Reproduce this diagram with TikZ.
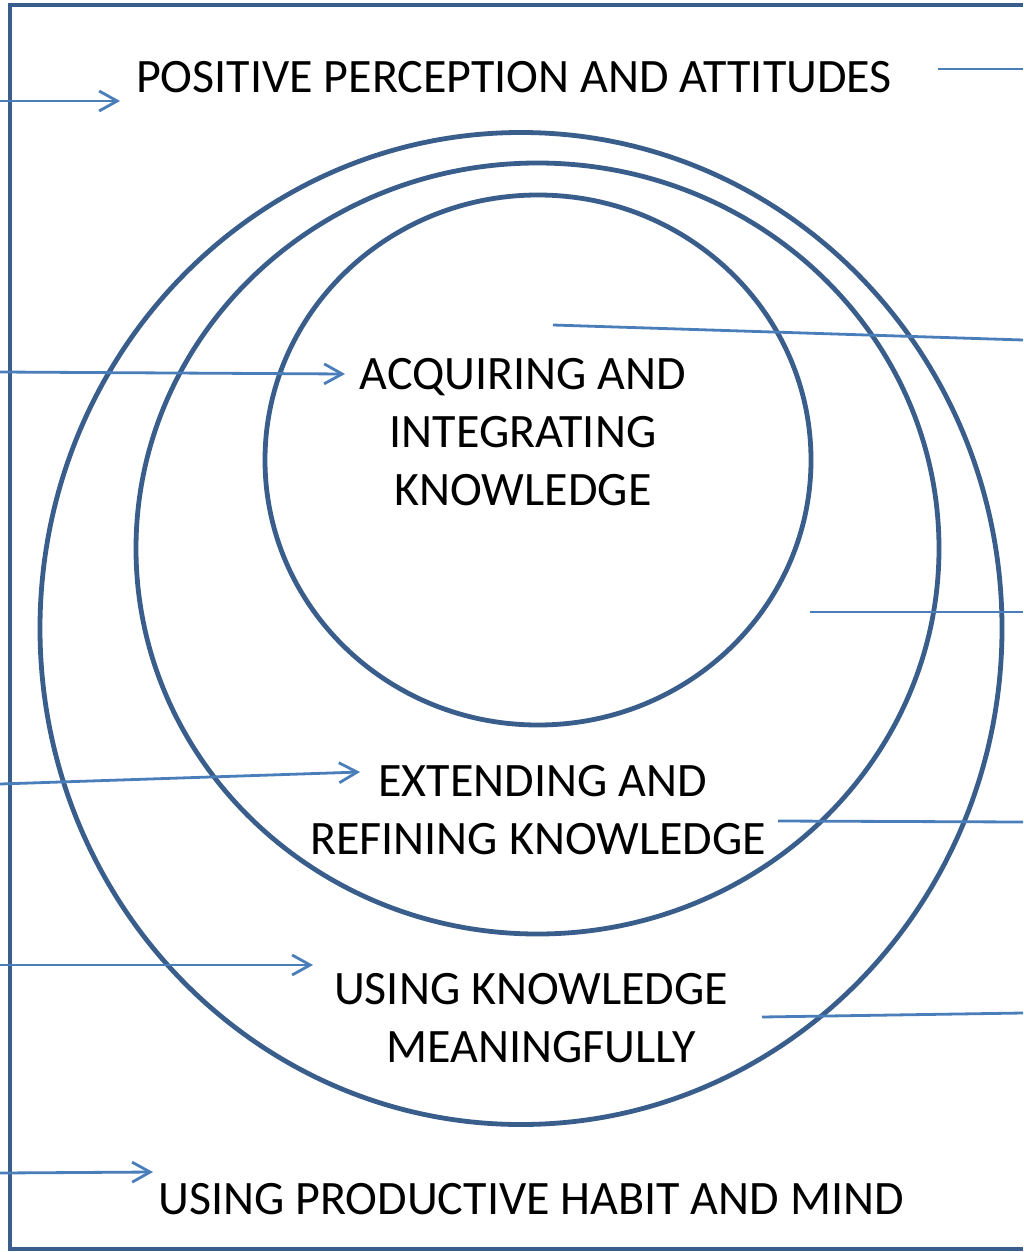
\documentclass[tikz,border=0pt]{standalone}
\usepackage{fontspec}
\setmainfont{Carlito}
\usetikzlibrary{arrows.meta,shapes.geometric}
\definecolor{framecol}{HTML}{3A5E8C}
\definecolor{arrowcol}{HTML}{4A7EBB}
\tikzset{
  ring/.style={draw=framecol,line width=2.4pt,ellipse,inner sep=0pt},
  label/.style={font=\fontsize{24}{29}\selectfont,inner sep=0pt,align=center,text=black},
  pointer/.style={draw=arrowcol,line width=1.4pt,-{Straight Barb[length=9pt,width=10pt,line width=1.4pt]}},
  plainline/.style={draw=arrowcol,line width=1.4pt}
}
\begin{document}
\begin{tikzpicture}[x=0.5pt,y=-0.5pt]
\useasboundingbox (0,0) rectangle (1023,1252);
\fill[white] (0,0) rectangle (1023,1252);
% frame
\draw[framecol,line width=2.4pt] (1023,5) -- (10,5) -- (10,1249) -- (1023,1249);
% rings
\node[ring,minimum width=481pt,minimum height=496pt] (outer) at (521,628.5) {};
\node[ring,minimum width=401.5pt,minimum height=385.5pt] (middle) at (537.5,548.5) {};
\node[ring,minimum width=273pt,minimum height=265pt] (inner) at (538,460) {};
% texts
\node[label,anchor=base] (pos) at (514,93) {POSITIVE PERCEPTION AND ATTITUDES};
\node[label,anchor=north] (acq) at (523,358) {ACQUIRING AND\\INTEGRATING\\KNOWLEDGE};
\node[label,anchor=north] (ext) at (538,765) {\hspace*{4.5pt}EXTENDING AND\\REFINING KNOWLEDGE};
\node[label,anchor=north] (use) at (531,973) {USING KNOWLEDGE\\\hspace*{10pt}MEANINGFULLY};
\node[label,anchor=base] (hab) at (531,1214) {USING PRODUCTIVE HABIT AND MIND};
% left pointers
\coordinate (l1) at (0,101); \coordinate (e1) at (120,101);
\coordinate (l2) at (0,372); \coordinate (e2) at (345,374);
\coordinate (l3) at (0,784); \coordinate (e3) at (360,772);
\coordinate (l4) at (0,965); \coordinate (e4) at (313,965);
\coordinate (l5) at (0,1173); \coordinate (e5) at (153,1172);
\draw[pointer] (l1) -- (e1);
\draw[pointer] (l2) -- (e2);
\draw[pointer] (l3) -- (e3);
\draw[pointer] (l4) -- (e4);
\draw[pointer] (l5) -- (e5);
% right lines
\coordinate (r1a) at (938,69);  \coordinate (r1b) at (1023,69);
\coordinate (r2a) at (553,325); \coordinate (r2b) at (1023,340);
\coordinate (r3a) at (810,612); \coordinate (r3b) at (1023,612);
\coordinate (r4a) at (778,821); \coordinate (r4b) at (1023,822);
\coordinate (r5a) at (762,1017);\coordinate (r5b) at (1023,1013);
\draw[plainline] (r1a) -- (r1b);
\draw[plainline] (r2a) -- (r2b);
\draw[plainline] (r3a) -- (r3b);
\draw[plainline] (r4a) -- (r4b);
\draw[plainline] (r5a) -- (r5b);
\end{tikzpicture}
\end{document}
